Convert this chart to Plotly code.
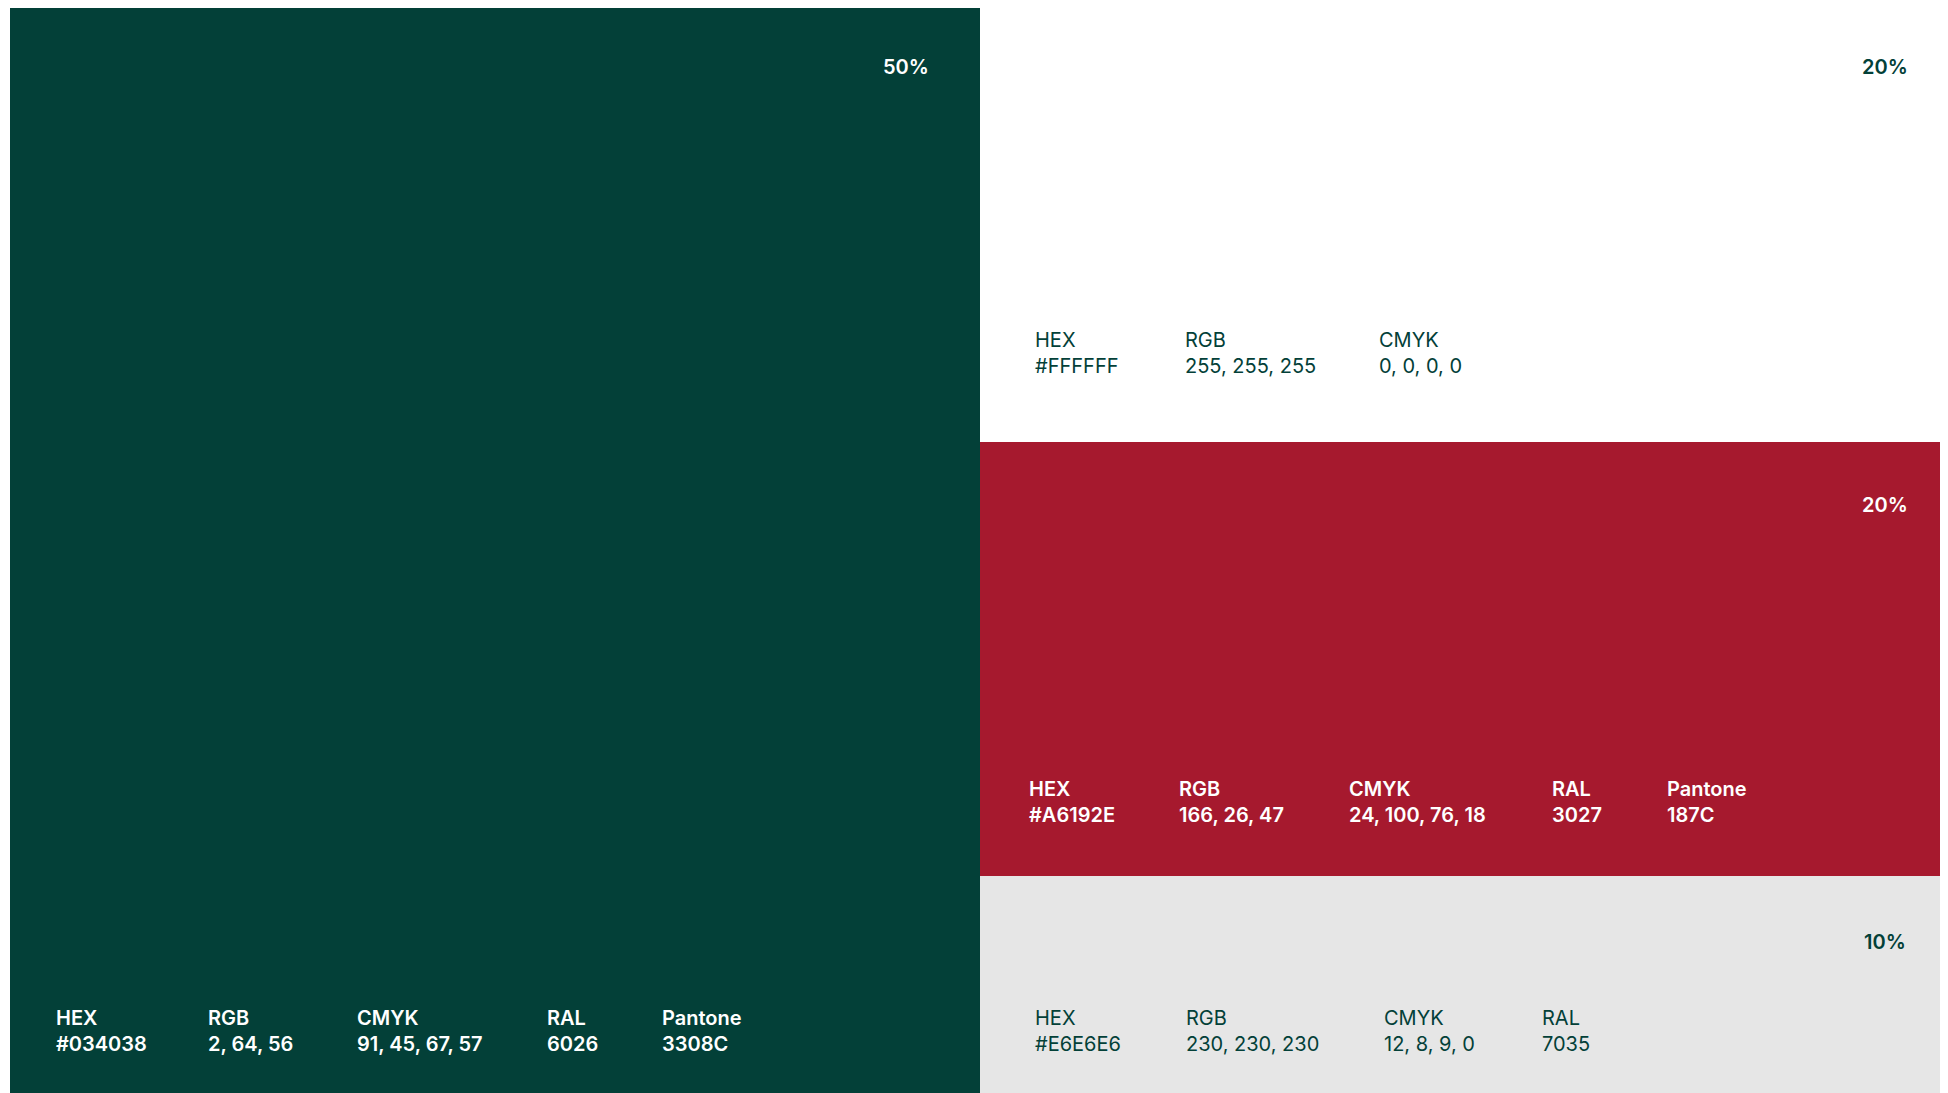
import plotly.graph_objects as go

# ---- data ----
swatch_ids = ["green", "white", "red", "grey"]
shares = [50, 20, 20, 10]
hex_codes = ["#034038", "#FFFFFF", "#A6192E", "#E6E6E6"]
rgb_values = ["2, 64, 56", "255, 255, 255", "166, 26, 47", "230, 230, 230"]
cmyk_values = ["91, 45, 67, 57", "0, 0, 0, 0", "24, 100, 76, 18", "12, 8, 9, 0"]
ral_values = ["6026", None, "3027", "7035"]
pantone_values = ["3308C", None, "187C", None]
pct_labels = ["50%", "20%", "20%", "10%"]

# ---- layout constants (screen pixels) ----
W, H = 1948, 1093
BODY = 8                      # default page margin around the plot div
SX0, SX1 = 10, 1950           # tile area on screen
SY0, SY1 = 8, 1093
DARK = "#034038"
FONT = "Inter"

def px(sx):
    return (sx - BODY) / W

def py(sy):
    return 1 - (sy - BODY) / H

# treemap: green on the left, the rest stacked on the right
ids = ["root", "green", "rest", "white", "red", "grey"]
parents = ["", "root", "root", "rest", "rest", "rest"]
values = [sum(shares), shares[0], sum(shares[1:]), shares[1], shares[2], shares[3]]
node_colors = ["#FFFFFF", hex_codes[0], "#FFFFFF", hex_codes[1], hex_codes[2], hex_codes[3]]

fig = go.Figure(go.Treemap(
    ids=ids, labels=[""] * len(ids), parents=parents, values=values,
    branchvalues="total", sort=False,
    marker=dict(colors=node_colors, line=dict(width=0),
                pad=dict(t=0, l=0, r=0, b=0)),
    tiling=dict(packing="slice-dice", pad=0),
    pathbar=dict(visible=False),
    textinfo="none", hoverinfo="skip",
    domain=dict(x=[px(SX0), min(1, px(SX1))], y=[max(0, py(SY1)), min(1, py(SY0))]),
))

# tile rectangles from the values (same tiling as the treemap)
total = sum(shares)
split_x = SX0 + (SX1 - SX0) * shares[0] / total
rects = [(SX0, SY0, split_x, SY1)]
y = SY0
rest = sum(shares[1:])
for s in shares[1:]:
    h = (SY1 - SY0) * s / rest
    rects.append((split_x, y, SX1, y + h))
    y += h

pct_inset = [49, 40, 40, 42]
pct_top = [59, 59, 63, 66]
info_cols = [
    [44, 196, 345, 535, 650],
    [53, 203, 397],
    [47, 197, 367, 570, 685],
    [53, 204, 402, 560],
]
info_bottom = [62, 89, 74, 62]
light = [False, True, False, True]

annotations = []
for i, (x0, y0, x1, y1) in enumerate(rects):
    col = DARK if light[i] else "#FFFFFF"
    annotations.append(dict(
        x=px(x1 - pct_inset[i]), y=py(y0 + pct_top[i]), xref="paper", yref="paper",
        xanchor="right", yanchor="middle", showarrow=False, text=pct_labels[i],
        font=dict(family=FONT, size=20, color=col, weight=600),
    ))
    items = [("HEX", hex_codes[i]), ("RGB", rgb_values[i]), ("CMYK", cmyk_values[i])]
    if ral_values[i]:
        items.append(("RAL", ral_values[i]))
    if pantone_values[i]:
        items.append(("Pantone", pantone_values[i]))
    for (k, v), off in zip(items, info_cols[i]):
        annotations.append(dict(
            x=px(x0 + off), y=py(y1 - info_bottom[i]), xref="paper", yref="paper",
            xanchor="left", yanchor="middle", align="left", showarrow=False,
            text=f"{k}<br>{v}",
            font=dict(family=FONT, size=20, color=col, weight=400 if light[i] else 600),
        ))

fig.update_layout(
    width=W, height=H, margin=dict(l=0, r=0, t=0, b=0),
    paper_bgcolor="#FFFFFF", annotations=annotations, showlegend=False,
)

fig.write_html("out.html")
